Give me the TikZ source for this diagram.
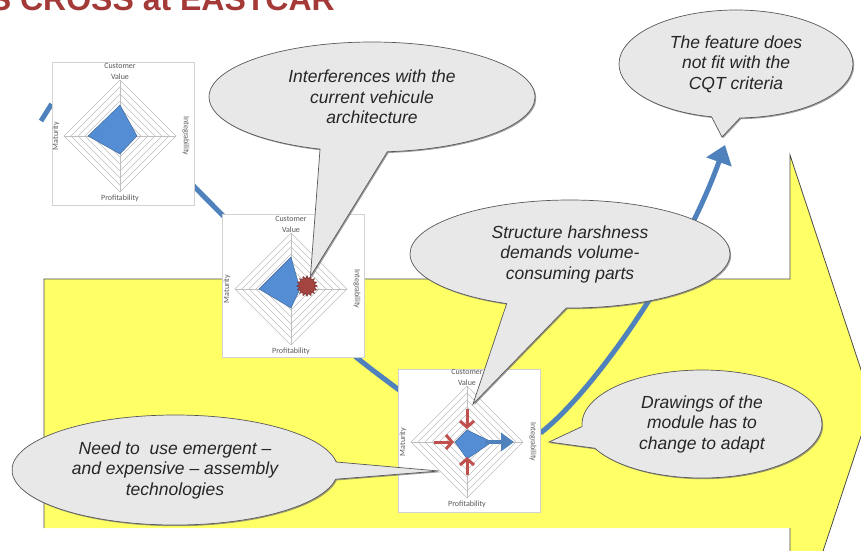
\documentclass[tikz,border=0pt]{standalone}
\usepackage{fontspec}
\setmainfont{Liberation Sans}
\newfontfamily\chartfont{Carlito}
\usetikzlibrary{shapes.callouts,shapes.symbols,arrows.meta,backgrounds,shadows}

\definecolor{slidered}{RGB}{163,58,56}
\definecolor{flowblue}{RGB}{79,129,189}
\definecolor{polyblue}{RGB}{84,141,212}
\definecolor{markred}{RGB}{192,80,77}
\definecolor{bubblegray}{RGB}{232,232,232}
\definecolor{arrowyellow}{RGB}{255,255,102}
\definecolor{labelgray}{RGB}{89,89,89}

% spider web of one chart, #1 = prefix of the node names
\newcommand\radarweb[1]{%
  \foreach \r in {1,...,8}
    \draw[web] (0,-7*\r) -- (7*\r,0) -- (0,7*\r) -- (-7*\r,0) -- cycle;
  \draw[web] (0,-56) -- (0,56) (-56,0) -- (56,0);
  \node[axis label] (#1cv) at (0,-65) {Customer\\Value};
  \node[axis label, rotate=-90] (#1int) at (66,0) {Integrability};
  \node[axis label] (#1prof) at (0,62) {Profitability};
  \node[axis label, rotate=90] (#1mat) at (-64,0) {Maturity};
}

\begin{document}
\begin{tikzpicture}[x=1pt, y=-1pt,
  chart/.style={draw=gray!35, fill=white, line width=0.8pt,
    minimum width=142pt, minimum height=143pt, inner sep=0pt},
  web/.style={draw=gray!50, line width=0.6pt},
  axis label/.style={font=\chartfont\fontsize{8}{11}\selectfont,
    text=labelgray, inner sep=0pt, align=center},
  bubble/.style={ellipse callout, draw=black!65, fill=bubblegray,
    line width=0.7pt, text=black!85, align=center, inner sep=0pt,
    font=\itshape\fontsize{17.5}{20.5}\selectfont,
    drop shadow={shadow xshift=1.2pt, shadow yshift=-1.2pt,
      fill=black!55, opacity=0.7}},
  flow/.style={draw=flowblue, line width=5pt},
  push/.style={draw=markred, line width=3pt,
    -{Straight Barb[length=6pt, width=14pt]}}]

  \useasboundingbox (0,0) rectangle (861,550);
  \clip (0,0) rectangle (861,550);

  % slide title, cut by the top of the page
  \node[anchor=base east, inner sep=0pt, text=slidered,
    font=\bfseries\fontsize{32}{38}\selectfont] (title) at (335,10)
    {S CROSS at EASTCAR};

  % the three charts
  \node[chart] (ch1) at (123,134) {};
  \node[chart] (ch2) at (293,286) {};
  \node[chart] (ch3) at (469,441) {};

  \begin{scope}[shift={(120,136)}]
    \radarweb{a}
    \fill[polyblue, draw=polyblue!70!black, line width=0.4pt]
      (0,-31) -- (17,0) -- (0,18) -- (-32,0) -- cycle;
  \end{scope}

  \begin{scope}[shift={(291,289)}]
    \radarweb{b}
    \fill[polyblue, draw=polyblue!70!black, line width=0.4pt]
      (0,-32) -- (9,0) -- (0,19) -- (-32,0) -- cycle;
    \node[starburst, starburst points=16, starburst point height=3pt,
      random starburst=0, fill=markred!85!black, draw=markred!60!black,
      minimum size=21pt, inner sep=0pt] (seal) at (16,-3) {};
  \end{scope}

  \begin{scope}[shift={(467,442)}]
    \radarweb{c}
    \fill[polyblue, draw=polyblue!70!black, line width=0.4pt]
      (0,-12) -- (25,0) -- (0,17) -- (-12,0) -- cycle;
    \draw[flowblue, line width=4pt, -{Triangle[length=13pt, width=18pt]}]
      (18,0) -- (47,0);
    \draw[push] (0,-33) -- (0,-13);
    \draw[push] (-33,0) -- (-13,0);
    \draw[push] (0,33) -- (0,15);
  \end{scope}

  % comments on the charts
  \node[bubble, minimum width=326pt, minimum height=110pt,
    callout absolute pointer={(seal.70)}, callout pointer arc=24]
    (interf) at (372,97)
    {Interferences with the\\current vehicule\\architecture};

  \node[bubble, minimum width=234pt, minimum height=108pt,
    callout absolute pointer={(722,137)}, callout pointer arc=14]
    (nofit) at (736,64)
    {The feature does\\not fit with the\\CQT criteria};

  \node[bubble, minimum width=320pt, minimum height=108pt,
    callout absolute pointer={(473,404)}, callout pointer arc=22]
    (harsh) at (570,254)
    {Structure harshness\\demands volume-\\consuming parts};

  \node[bubble, minimum width=240pt, minimum height=108pt,
    callout absolute pointer={(549,442)}, callout pointer arc=24]
    (draw) at (702,424)
    {Drawings of the\\module has to\\change to adapt};

  \node[bubble, minimum width=326pt, minimum height=110pt,
    callout absolute pointer={(439,471)}, callout pointer arc=18]
    (assy) at (175,470)
    {Need to~ use emergent --\\and expensive -- assembly\\technologies};

  \coordinate (from) at (41,121);
  \coordinate (fit) at (725,145);

  % big yellow arrow and the path of the feature
  \begin{pgfonlayer}{background}
    \fill[arrowyellow] (44,279) -- (790,279) -- (790,155) -- (872,403)
      -- (790,651) -- (790,528) -- (44,528) -- cycle;
    \draw[black!70, line width=0.8pt] (44,528) -- (44,279) -- (790,279)
      -- (790,155) -- (872,403) -- (790,651) -- (790,528);

    \draw[flow] (from) -- ([yshift=30]ch1.west);
    \draw[flow] ([yshift=19]ch1.center) -- (ch2.center);
    \draw[flow] (ch2.center) .. controls (330,340) .. (ch3.center);
    \draw[flow, -{Triangle[length=18pt, width=26pt]}] ([yshift=8]ch3.east)
      .. controls (590,395) and (680,270) .. (fit);
  \end{pgfonlayer}
\end{tikzpicture}
\end{document}
